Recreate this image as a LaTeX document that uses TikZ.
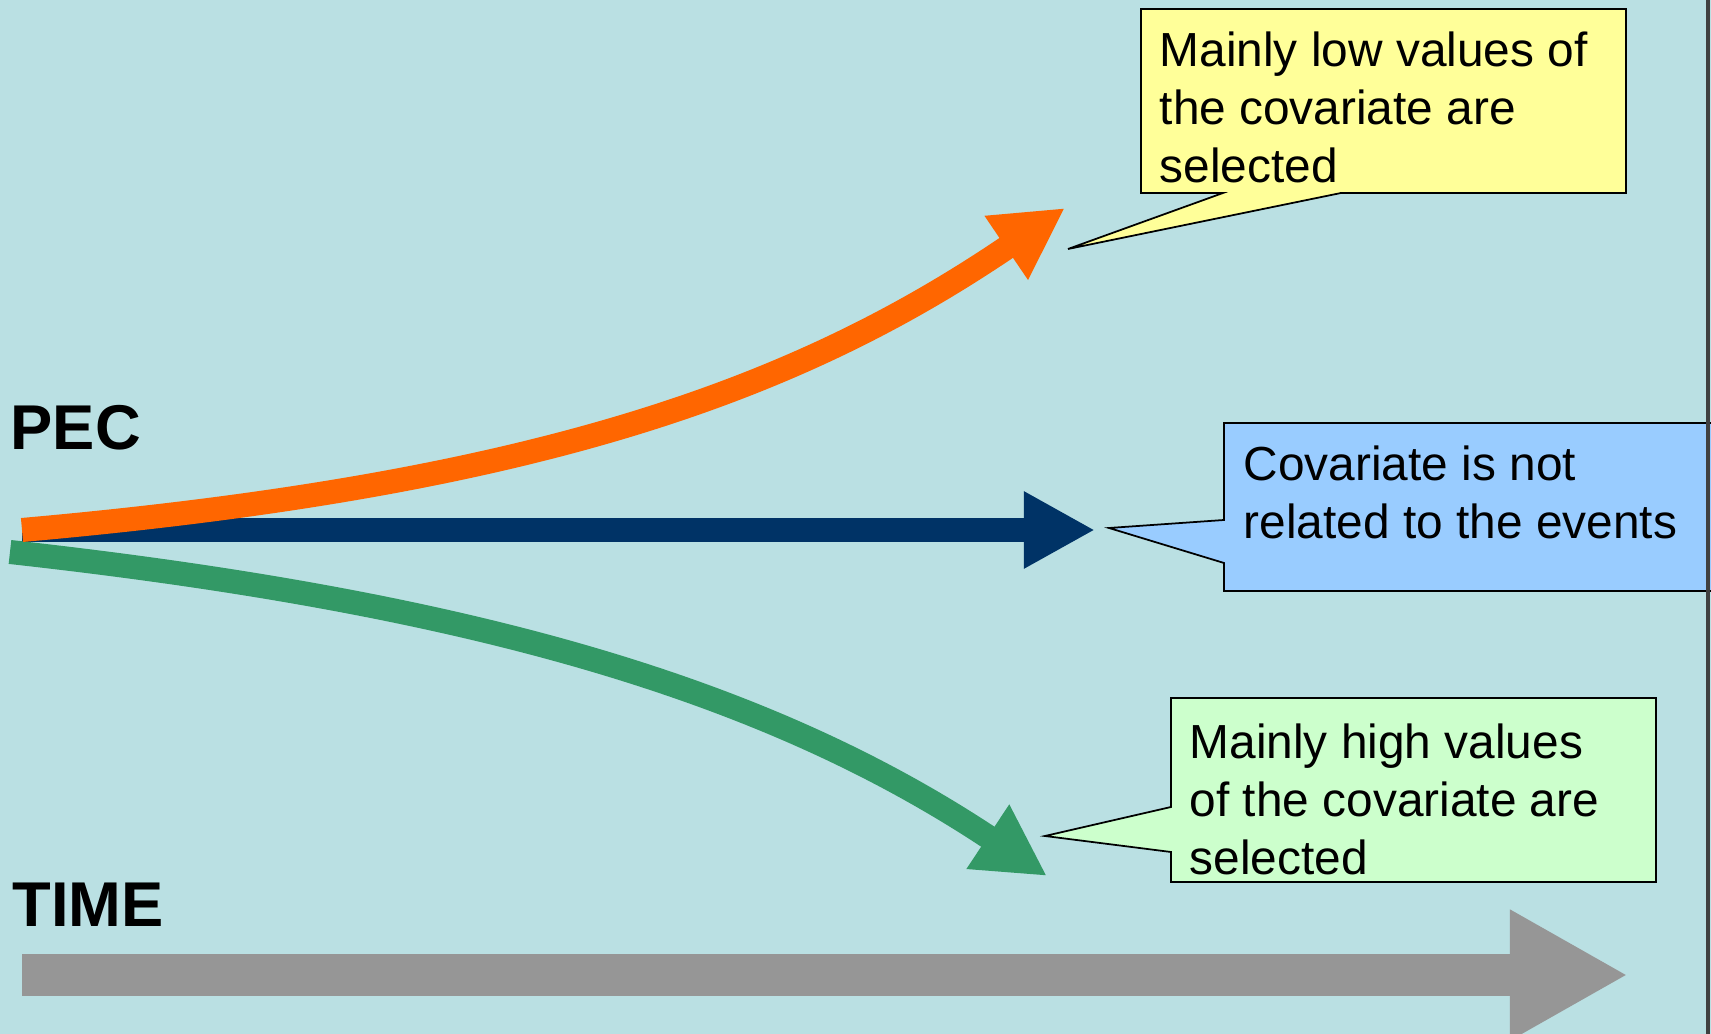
\documentclass[tikz,border=0pt]{standalone}
\usepackage{fontspec}
\setmainfont{Liberation Sans}
\usetikzlibrary{arrows.meta}

\definecolor{slideblue}{RGB}{186,224,227}
\definecolor{pecnavy}{RGB}{0,51,102}
\definecolor{pecorange}{RGB}{255,102,0}
\definecolor{pecgreen}{RGB}{51,153,102}
\definecolor{timegray}{RGB}{150,150,150}
\definecolor{noteyellow}{RGB}{255,255,153}
\definecolor{noteblue}{RGB}{153,204,255}
\definecolor{notegreen}{RGB}{204,255,204}

\begin{document}
\begin{tikzpicture}[x=0.01cm, y=-0.01cm,
	notetext/.style={anchor=base west, align=left, inner sep=0pt, font=\fontsize{13.6}{16.5}\selectfont},
	axislabel/.style={anchor=base west, inner sep=0pt, font=\fontsize{18}{20}\selectfont\bfseries},
	callout/.style={draw=black, line width=0.5pt},
	trend/.style={line width=0.24cm, -{Triangle[length=0.71cm, width=0.72cm]}}]
	
	% background
	\fill[slideblue] (0,0) rectangle (1711,1034);
	\useasboundingbox (0,0) rectangle (1711,1034);
	
	% start and end points
	\coordinate (pec) at (22,530);
	\coordinate (pecg) at (10,552);
	\coordinate (lowend) at (1065,208);
	\coordinate (flatend) at (1095,530);
	\coordinate (highend) at (1047,876);
	\coordinate (t0) at (22,975);
	\coordinate (t1) at (1628,975);
	
	% the three trends
	\draw[trend, pecnavy] (pec) -- (flatend);
	\draw[trend, pecgreen] (pecg) .. controls (480,604) and (770,692) .. (highend);
	\draw[trend, pecorange] (pec) .. controls (542,484) and (800,388) .. (lowend);
	
	% time axis
	\draw[timegray, line width=0.41cm, -{Triangle[length=1.18cm, width=1.22cm]}] (t0) -- (t1);
	
	% callouts
	\filldraw[callout, fill=noteyellow] (1141,9) -- (1626,9) -- (1626,193) -- (1341,193) -- (1068,249) -- (1223,193) -- (1141,193) -- cycle;
	\filldraw[callout, fill=noteblue] (1224,423) -- (1712,423) -- (1712,591) -- (1224,591) -- (1224,563) -- (1109,528) -- (1224,520) -- cycle;
	\filldraw[callout, fill=notegreen] (1171,698) -- (1656,698) -- (1656,882) -- (1171,882) -- (1171,852) -- (1045,836) -- (1171,807) -- cycle;
	
	% texts, placed at the baseline of their last line
	\node[notetext] (lowtext) at (1159,183) {Mainly low values of\\the covariate are\\selected};
	\node[notetext] (flattext) at (1243,539) {Covariate is not\\related to the events};
	\node[notetext] (hightext) at (1189,875) {Mainly high values\\of the covariate are\\selected};
	
	\node[axislabel] (peclabel) at (10,450) {PEC};
	\node[axislabel] (timelabel) at (12,927) {TIME};
	
	% slide edge
	\draw[line width=1.2pt, black!75] (1708,0) -- (1708,1034);
	
\end{tikzpicture}
\end{document}
